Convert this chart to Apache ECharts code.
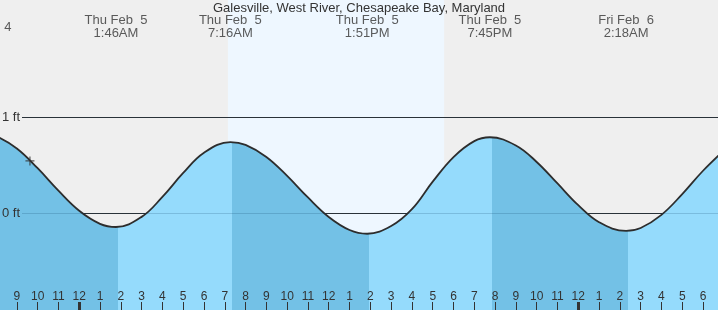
<!DOCTYPE html>
<html><head><meta charset="utf-8">
<script src="https://cdn.jsdelivr.net/npm/echarts@6/dist/echarts.min.js"></script>
<style>html,body{margin:0;padding:0;background:#efefef}#c{width:718px;height:310px}</style>
</head><body><div id="c"></div>
<script>
const titleText = 'Galesville, West River, Chesapeake Bay, Maryland';

// hours relative to Thu Feb 5 00:00
const tideTimes   = [-4.7, -4, -3, -2, -1, 0, 1, 1.767, 3, 4, 5, 6, 7.267, 8, 9, 10, 11, 12, 13, 13.85, 15, 16, 17, 18, 19, 19.75, 21, 22, 23, 24, 25, 26.3, 27, 28, 29, 30, 31];
const tideHeights = [0.83, 0.802, 0.674, 0.469, 0.236, 0.028, -0.107, -0.14, -0.035, 0.172, 0.42, 0.63, 0.74, 0.711, 0.586, 0.39, 0.166, -0.036, -0.171, -0.21, -0.13, 0.045, 0.33, 0.585, 0.75, 0.79, 0.705, 0.534, 0.311, 0.086, -0.09, -0.18, -0.15, -0.014, 0.201, 0.443, 0.653];

// where the fill switches between falling (dark) and rising (light) tide
const bandEdges  = [1.87, 7.37, 13.95, 19.85, 26.4];
const bandKinds  = ['fall', 'rise', 'fall', 'rise', 'fall', 'rise'];

const eventTimes  = [-4.77, 1.767, 7.267, 13.85, 19.75, 26.3];
const eventDates  = ['Thu Feb  4', 'Thu Feb  5', 'Thu Feb  5', 'Thu Feb  5', 'Thu Feb  5', 'Fri Feb  6'];
const eventClock  = ['', '1:46AM', '7:16AM', '1:51PM', '7:45PM', '2:18AM'];

const daylight = [7.15, 17.55];
const nowPoint = [-2.37, 0.545];

const levelValues = [0, 1];
const hourTicks = [];
for (let h = -3; h <= 30; h++) hourTicks.push(h);
const hourLabels = ['9','10','11','12','1','2','3','4','5','6','7','8','9','10','11','12','1','2','3','4','5','6','7','8','9','10','11','12','1','2','3','4','5','6'];
const midnightTicks = [0, 24];

const xMin = -3.81, xMax = 30.72;
const yMin = -1, yMax = 2.2124;

const FONT = '"Liberation Sans", Arial, sans-serif';
const TXT = '#333';
const bandColor = { fall: '#73c1e6', rise: '#95dbfc' };

const allPts = tideTimes.map((t, i) => [t, tideHeights[i]]);

const pieces = bandKinds.map((k, i) => {
  const p = { color: bandColor[k] };
  if (i > 0) p.gte = bandEdges[i - 1];
  if (i < bandEdges.length) p.lt = bandEdges[i];
  return p;
});

const chart = echarts.init(document.getElementById('c'), null, { renderer: 'canvas' });
chart.setOption({
  animation: false,
  backgroundColor: '#efefef',
  title: { text: titleText, left: 'center', top: 2, padding: 0,
    textStyle: { fontSize: 13, fontWeight: 'normal', color: TXT, fontFamily: FONT } },
  grid: [
    { left: 0, right: 0, top: 0, bottom: 0 },
    { left: 22, right: 0, top: 0, bottom: 0 }
  ],
  visualMap: { type: 'piecewise', show: false, dimension: 0, seriesIndex: 1, pieces: pieces },
  xAxis: [
    { gridIndex: 0, type: 'value', min: xMin, max: xMax, position: 'bottom', z: 6,
      axisLine: { show: false, onZero: false }, splitLine: { show: false },
      axisTick: { show: true, inside: true, length: 8, lineStyle: { color: TXT, width: 1 }, customValues: hourTicks },
      axisLabel: { show: true, inside: true, margin: 7, customValues: hourTicks,
        formatter: v => hourLabels[hourTicks.indexOf(Math.round(v))],
        color: TXT, fontSize: 12, fontFamily: FONT } },
    { gridIndex: 1, type: 'value', min: xMin, max: xMax, show: false, axisLine: { onZero: false } },
    { gridIndex: 0, type: 'value', min: xMin, max: xMax, position: 'bottom', z: 6,
      axisLine: { show: false, onZero: false }, splitLine: { show: false },
      axisTick: { show: true, inside: true, length: 8, lineStyle: { color: TXT, width: 3 }, customValues: midnightTicks },
      axisLabel: { show: false } }
  ],
  yAxis: [
    { gridIndex: 0, type: 'value', min: yMin, max: yMax, show: false },
    { gridIndex: 1, type: 'value', min: yMin, max: yMax, show: false }
  ],
  series: [
    { type: 'line', xAxisIndex: 0, yAxisIndex: 0, data: allPts, smooth: 0.4, symbol: 'none', silent: true, z: 4,
      lineStyle: { color: '#2d2d2d', width: 1.8 },
      markArea: { z: 1, silent: true, itemStyle: { color: '#eef7ff' },
        data: [[{ xAxis: daylight[0] }, { xAxis: daylight[1] }]] } },
    { type: 'line', xAxisIndex: 0, yAxisIndex: 0, data: allPts, smooth: 0.4, symbol: 'none', silent: true, z: 3,
      lineStyle: { width: 0 },
      areaStyle: { opacity: 1, origin: 'start' } },
    { type: 'line', xAxisIndex: 1, yAxisIndex: 1, data: [], silent: true, z: 2,
      markLine: { z: 2, silent: true, symbol: 'none', label: { show: false },
        lineStyle: { color: '#333', width: 1, type: 'solid' },
        data: levelValues.map(v => ({ yAxis: v })) } },
    { type: 'line', xAxisIndex: 1, yAxisIndex: 1, data: [], silent: true, z: 5,
      markLine: { z: 5, silent: true, symbol: 'none',
        lineStyle: { color: 'rgba(0,50,90,0.18)', width: 1, type: 'solid' },
        label: { show: true, position: 'start', distance: 2, formatter: p => p.value + ' ft',
          color: TXT, fontSize: 13, fontFamily: FONT },
        data: levelValues.map(v => ({ yAxis: v })) } },
    { type: 'scatter', xAxisIndex: 0, yAxisIndex: 0, data: [nowPoint], z: 6, silent: true,
      symbol: 'path://M0 5H10M5 0V10', symbolSize: 9,
      itemStyle: { color: 'rgba(0,0,0,0)', borderColor: '#333', borderWidth: 1.2 } },
    { type: 'scatter', xAxisIndex: 0, yAxisIndex: 0, clip: false, z: 7, silent: true,
      symbolSize: 0,
      data: eventTimes.map((t, i) => ({ value: [t, yMax],
        label: { formatter: eventDates[i] + (eventClock[i] ? '\n' + eventClock[i] : '') } })),
      label: { show: true, position: 'inside', offset: [0, 27], color: TXT, fontSize: 13,
        lineHeight: 13, fontFamily: FONT } }
  ]
});
</script></body></html>
